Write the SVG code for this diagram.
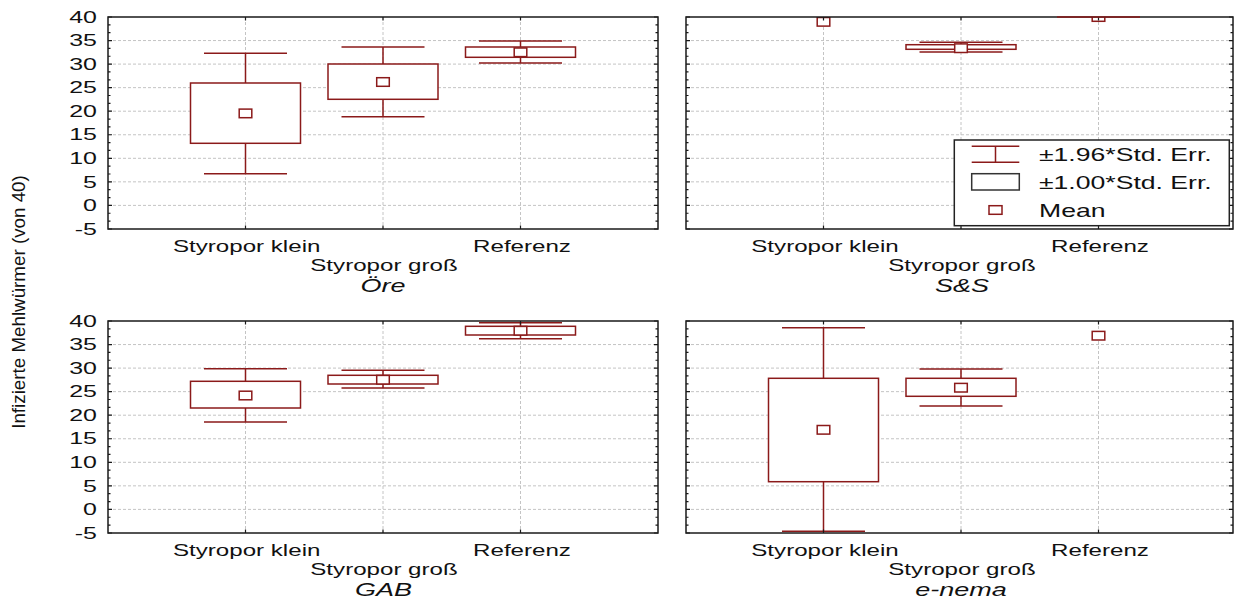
<svg xmlns="http://www.w3.org/2000/svg" xmlns:xlink="http://www.w3.org/1999/xlink" width="1234" height="601" viewBox="0 0 1234 601">
<style>
.frame{fill:none;stroke:#1a1a1a;stroke-width:1.5}
.grid{fill:none;stroke:#c4c4c4;stroke-width:1;stroke-dasharray:3 2}
.tk{fill:none;stroke:#1a1a1a;stroke-width:1.2}
.ser{fill:#fff;stroke:#8b1a1a;stroke-width:1.5}
.wh{fill:none;stroke:#8b1a1a;stroke-width:1.5}
text{font-family:"Liberation Sans",Arial,sans-serif;fill:#111}
.yt{font-size:15.6px;text-anchor:end}
.cat{font-size:16.3px;text-anchor:middle}
.ttl{font-size:18px;font-style:italic;text-anchor:middle}
.leg{font-size:17.5px}
.ylab{font-size:18.8px;text-anchor:middle}
</style>
<defs>
<path id="hgrid" d="M0,23.55H550M0,47.1H550M0,70.65H550M0,94.2H550M0,117.75H550M0,141.3H550M0,164.85H550M0,188.4H550"/>
<path id="vgrid" d="M137.5,0V212M275,0V212M412.5,0V212"/>
<path id="yticks" d="M0,0h4M0,23.55h4M0,47.1h4M0,70.65h4M0,94.2h4M0,117.75h4M0,141.3h4M0,164.85h4M0,188.4h4M0,212h4M0,7.85h2.5M0,15.7h2.5M0,31.4h2.5M0,39.25h2.5M0,54.95h2.5M0,62.8h2.5M0,78.5h2.5M0,86.35h2.5M0,102.05h2.5M0,109.9h2.5M0,125.6h2.5M0,133.45h2.5M0,149.15h2.5M0,157h2.5M0,172.7h2.5M0,180.55h2.5M0,196.25h2.5M0,204.1h2.5"/>
<path id="xticks" d="M137.5,0v3.5M275,0v3.5M412.5,0v3.5M137.5,212v-3.5M275,212v-3.5M412.5,212v-3.5"/>
<clipPath id="clipL"><rect x="0" y="0" width="550" height="212"/></clipPath>
<clipPath id="clipR"><rect x="0" y="0" width="547" height="212"/></clipPath>
</defs>
<rect width="1234" height="601" fill="#fff"/>

<text class="ylab" transform="translate(25,302) rotate(-90)">Infizierte Mehlwürmer (von 40)</text>

<!-- Panel Öre -->
<g id="panel-oere" transform="translate(108,17)">
<use href="#hgrid" class="grid"/>
<use href="#vgrid" class="grid"/>
<g clip-path="url(#clipL)">
<path class="wh" d="M96,36.3h83M137.5,36.3V66M137.5,126.3V156.7M96,156.7h83"/>
<rect class="ser" x="82.5" y="66" width="110" height="60.3"/>
<rect class="ser" x="131.2" y="92.1" width="12.6" height="8.6"/>
<path class="wh" d="M233.5,30h83M275,30V47M275,82.3V99.7M233.5,99.7h83"/>
<rect class="ser" x="220" y="47" width="110" height="35.3"/>
<rect class="ser" x="268.7" y="60.7" width="12.6" height="8.6"/>
<path class="wh" d="M371,24h83M412.5,24V30M412.5,40.3V46M371,46h83"/>
<rect class="ser" x="357.5" y="30" width="110" height="10.3"/>
<rect class="ser" x="406.2" y="31" width="12.6" height="8.6"/>
</g>
<use href="#yticks" class="tk"/>
<use href="#yticks" class="tk" transform="translate(550,0) scale(-1,1)"/>
<use href="#xticks" class="tk"/>
<rect class="frame" x="0" y="0" width="550" height="212"/>
</g>

<!-- Panel S&S -->
<g id="panel-ss" transform="translate(686,17)">
<use href="#hgrid" class="grid" clip-path="url(#clipR)"/>
<use href="#vgrid" class="grid"/>
<g clip-path="url(#clipR)">
<rect class="ser" x="131.2" y="0.5" width="12.6" height="8.6"/>
<path class="wh" d="M233.5,25.3h83M275,25.3V27.7M275,32.3V35M233.5,35h83"/>
<rect class="ser" x="220" y="27.7" width="110" height="4.6"/>
<rect class="ser" x="268.7" y="26.9" width="12.6" height="8.6"/>
<rect class="ser" x="406.2" y="-4.3" width="12.6" height="8.6"/>
</g>
<use href="#yticks" class="tk"/>
<use href="#yticks" class="tk" transform="translate(547,0) scale(-1,1)"/>
<use href="#xticks" class="tk"/>
<rect class="frame" x="0" y="0" width="547" height="212"/>
<path class="wh" d="M371,0h83"/>
</g>

<!-- Panel GAB -->
<g id="panel-gab" transform="translate(108,321)">
<use href="#hgrid" class="grid"/>
<use href="#vgrid" class="grid"/>
<g clip-path="url(#clipL)">
<path class="wh" d="M96,47.7h83M137.5,47.7V60.3M137.5,87V101M96,101h83"/>
<rect class="ser" x="82.5" y="60.3" width="110" height="26.7"/>
<rect class="ser" x="131.2" y="70.2" width="12.6" height="8.6"/>
<path class="wh" d="M233.5,49.3h83M275,49.3V54.3M275,63V67M233.5,67h83"/>
<rect class="ser" x="220" y="54.3" width="110" height="8.7"/>
<rect class="ser" x="268.7" y="54.4" width="12.6" height="8.6"/>
<path class="wh" d="M371,1.7h83M412.5,1.7V5.3M412.5,14V17.7M371,17.7h83"/>
<rect class="ser" x="357.5" y="5.3" width="110" height="8.7"/>
<rect class="ser" x="406.2" y="5.4" width="12.6" height="8.6"/>
</g>
<use href="#yticks" class="tk"/>
<use href="#yticks" class="tk" transform="translate(550,0) scale(-1,1)"/>
<use href="#xticks" class="tk"/>
<rect class="frame" x="0" y="0" width="550" height="212"/>
</g>

<!-- Panel e-nema -->
<g id="panel-enema" transform="translate(686,321)">
<use href="#hgrid" class="grid" clip-path="url(#clipR)"/>
<use href="#vgrid" class="grid"/>
<g clip-path="url(#clipR)">
<path class="wh" d="M96,6.7h83M137.5,6.7V57.3M137.5,160.7V210.3M96,210.3h83"/>
<rect class="ser" x="82.5" y="57.3" width="110" height="103.4"/>
<rect class="ser" x="131.2" y="104.5" width="12.6" height="8.6"/>
<path class="wh" d="M233.5,48h83M275,48V57.3M275,75.3V85M233.5,85h83"/>
<rect class="ser" x="220" y="57.3" width="110" height="18"/>
<rect class="ser" x="268.7" y="62.4" width="12.6" height="8.6"/>
<rect class="ser" x="406.2" y="10.4" width="12.6" height="8.6"/>
</g>
<use href="#yticks" class="tk"/>
<use href="#yticks" class="tk" transform="translate(547,0) scale(-1,1)"/>
<use href="#xticks" class="tk"/>
<rect class="frame" x="0" y="0" width="547" height="212"/>
</g>

<!-- Y tick labels top -->
<g id="yaxis-top">
<text class="yt" transform="translate(97,22.7) scale(1.6,1)">40</text>
<text class="yt" transform="translate(97,46.25) scale(1.6,1)">35</text>
<text class="yt" transform="translate(97,69.8) scale(1.6,1)">30</text>
<text class="yt" transform="translate(97,93.35) scale(1.6,1)">25</text>
<text class="yt" transform="translate(97,116.9) scale(1.6,1)">20</text>
<text class="yt" transform="translate(97,140.45) scale(1.6,1)">15</text>
<text class="yt" transform="translate(97,164) scale(1.6,1)">10</text>
<text class="yt" transform="translate(97,187.55) scale(1.6,1)">5</text>
<text class="yt" transform="translate(97,211.1) scale(1.6,1)">0</text>
<text class="yt" transform="translate(97,234.7) scale(1.6,1)">-5</text>
</g>
<g id="yaxis-bottom">
<text class="yt" transform="translate(97,326.7) scale(1.6,1)">40</text>
<text class="yt" transform="translate(97,350.25) scale(1.6,1)">35</text>
<text class="yt" transform="translate(97,373.8) scale(1.6,1)">30</text>
<text class="yt" transform="translate(97,397.35) scale(1.6,1)">25</text>
<text class="yt" transform="translate(97,420.9) scale(1.6,1)">20</text>
<text class="yt" transform="translate(97,444.45) scale(1.6,1)">15</text>
<text class="yt" transform="translate(97,468) scale(1.6,1)">10</text>
<text class="yt" transform="translate(97,491.55) scale(1.6,1)">5</text>
<text class="yt" transform="translate(97,515.1) scale(1.6,1)">0</text>
<text class="yt" transform="translate(97,538.7) scale(1.6,1)">-5</text>
</g>

<!-- Category labels -->
<g id="xlabels">
<text class="cat" transform="translate(246.7,251.7) scale(1.48,1)">Styropor klein</text>
<text class="cat" transform="translate(384,270.7) scale(1.48,1)">Styropor groß</text>
<text class="cat" transform="translate(522,251.7) scale(1.48,1)">Referenz</text>
<text class="ttl" transform="translate(383,291.5) scale(1.5,1)">Öre</text>

<text class="cat" transform="translate(825,251.7) scale(1.48,1)">Styropor klein</text>
<text class="cat" transform="translate(962,270.7) scale(1.48,1)">Styropor groß</text>
<text class="cat" transform="translate(1100,251.7) scale(1.48,1)">Referenz</text>
<text class="ttl" transform="translate(962,292) scale(1.5,1)">S&amp;S</text>

<text class="cat" transform="translate(246.7,555.7) scale(1.48,1)">Styropor klein</text>
<text class="cat" transform="translate(384,575) scale(1.48,1)">Styropor groß</text>
<text class="cat" transform="translate(522,555.7) scale(1.48,1)">Referenz</text>
<text class="ttl" transform="translate(383.5,596) scale(1.5,1)">GAB</text>

<text class="cat" transform="translate(825,555.7) scale(1.48,1)">Styropor klein</text>
<text class="cat" transform="translate(962,575) scale(1.48,1)">Styropor groß</text>
<text class="cat" transform="translate(1100,555.7) scale(1.48,1)">Referenz</text>
<text class="ttl" transform="translate(961,596) scale(1.5,1)">e-nema</text>
</g>

<!-- Legend -->
<g id="legend">
<rect x="954.3" y="140" width="275" height="85.7" fill="#fff" stroke="#222" stroke-width="1.5"/>
<path class="wh" d="M971.7,146.3h47.6M995.5,146.3V162.3M971.7,162.3h47.6"/>
<rect x="971.7" y="173.7" width="47.6" height="16.3" fill="#fff" stroke="#333" stroke-width="1.5"/>
<rect class="ser" x="989" y="205.7" width="13" height="8.6"/>
<text class="leg" transform="translate(1039,161) scale(1.52,1)">±1.96*Std. Err.</text>
<text class="leg" transform="translate(1039,188.7) scale(1.52,1)">±1.00*Std. Err.</text>
<text class="leg" transform="translate(1039,216.7) scale(1.52,1)">Mean</text>
</g>
</svg>
